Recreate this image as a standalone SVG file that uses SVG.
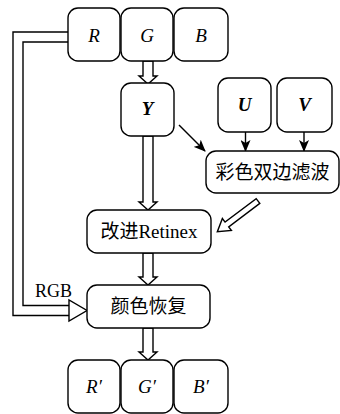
<svg xmlns="http://www.w3.org/2000/svg" width="340" height="414" viewBox="0 0 340 414">
<defs>
<style>
.box{fill:#fff;stroke:#000;stroke-width:1.4}
.ln{fill:none;stroke:#000;stroke-width:1.4}
.ha{fill:#fff;stroke:#000;stroke-width:1.4;stroke-linejoin:miter}
.it{font-family:"Liberation Serif","Times New Roman",serif;font-style:italic;font-size:19px;text-anchor:middle;fill:#000}
.bi{font-family:"Liberation Serif","Times New Roman",serif;font-style:italic;font-weight:bold;font-size:19px;text-anchor:middle;fill:#000}
.cn{font-family:"Liberation Serif","Noto Sans CJK SC",serif;font-size:19px;text-anchor:middle;fill:#000}
.lb{font-family:"Liberation Serif","Times New Roman",serif;font-size:18px;fill:#000}
</style>
<marker id="ah" viewBox="0 0 12 10" refX="11" refY="5" markerWidth="12" markerHeight="10" markerUnits="userSpaceOnUse" orient="auto">
<path d="M0,0 L12,5 L0,10 L3,5 Z" fill="#000"/>
</marker>
</defs>
<g id="connectors">
<path class="ln" d="M68,32 H13 V315.5 H69"/>
<path class="ln" d="M68,42 H23 V305.5 H69"/>
<polygon class="ha" points="69,305.5 69,300 87,310.5 69,321 69,315.5"/>
<polygon class="ha" points="143,61 143,76 139,76 148,84 157,76 153,76 153,61"/>
<polygon class="ha" points="143,136 143,202 139,202 148,210 157,202 153,202 153,136"/>
<polygon class="ha" points="143,253 143,277 139,277 148,285 157,277 153,277 153,253"/>
<polygon class="ha" points="143,328 143,352 139,352 148,360 157,352 153,352 153,328"/>
<line class="ln" x1="179" y1="125" x2="205" y2="151" marker-end="url(#ah)"/>
<line class="ln" x1="245.5" y1="132" x2="245.5" y2="151" marker-end="url(#ah)"/>
<line class="ln" x1="304" y1="132" x2="304" y2="151" marker-end="url(#ah)"/>
<polygon class="ha" transform="translate(258,201) rotate(142.9)" points="0,-3 39,-3 39,-7.5 51,0 39,7.5 39,3 0,3"/>
<text class="lb" x="35" y="297">RGB</text>
</g>
<g id="nR"><rect class="box" x="68" y="8" width="52" height="53" rx="10"/><text class="it" x="94" y="42">R</text></g>
<g id="nG"><rect class="box" x="121" y="8" width="52" height="53" rx="10"/><text class="it" x="147" y="42">G</text></g>
<g id="nB"><rect class="box" x="174" y="8" width="54" height="53" rx="10"/><text class="it" x="201" y="42">B</text></g>
<g id="nY"><rect class="box" x="121" y="83" width="53" height="53" rx="10"/><text class="bi" x="147.5" y="115">Y</text></g>
<g id="nU"><rect class="box" x="218" y="78" width="53" height="54" rx="10"/><text class="bi" x="244.5" y="111">U</text></g>
<g id="nV"><rect class="box" x="277" y="78" width="55" height="54" rx="10"/><text class="bi" x="304.5" y="111">V</text></g>
<g id="nFilter"><rect class="box" x="206" y="151" width="133" height="42" rx="10"/><text class="cn" x="272.5" y="179">彩色双边滤波</text></g>
<g id="nRetinex"><rect class="box" x="87" y="210" width="124" height="43" rx="10"/><text class="cn" x="149" y="238">改进Retinex</text></g>
<g id="nRestore"><rect class="box" x="87" y="285" width="123" height="43" rx="10"/><text class="cn" x="148.5" y="313">颜色恢复</text></g>
<g id="nR2"><rect class="box" x="68" y="360" width="52" height="53" rx="10"/><text class="it" x="94" y="393">R′</text></g>
<g id="nG2"><rect class="box" x="121" y="360" width="52" height="53" rx="10"/><text class="it" x="147" y="393">G′</text></g>
<g id="nB2"><rect class="box" x="174" y="360" width="54" height="53" rx="10"/><text class="it" x="201" y="393">B′</text></g>
</svg>
